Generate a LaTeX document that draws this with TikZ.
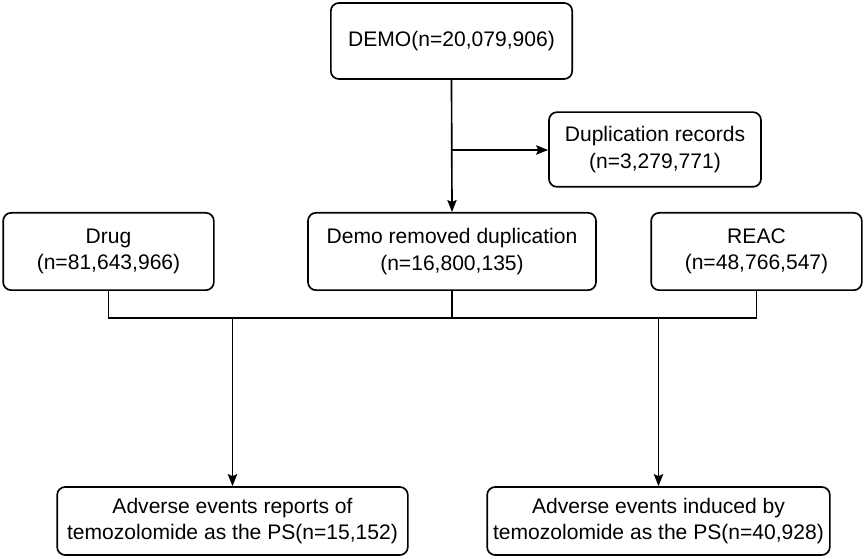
\documentclass[tikz,border=0pt]{standalone}
\usepackage{fontspec}
\setmainfont{Liberation Sans}
\usetikzlibrary{arrows.meta}

\tikzset{every picture/.style={line width=1.25pt}}
\tikzset{
  flowbox/.style={draw, rounded corners=6pt, align=center, inner sep=0.75pt,
    font=\fontsize{15.8}{19.6}\selectfont},
  flowarrow/.style={-{Stealth[length=9pt,width=7pt,inset=1.5pt]}}
}

\begin{document}
\begin{tikzpicture}[x=0.75pt,y=0.75pt,yscale=-1,xscale=1]
%set diagram size 865 x 559
\useasboundingbox (0,0) rectangle (865,559);

% Text Node
\node [flowbox, minimum width=181pt, minimum height=57pt] (demo) at (451.5,41) {DEMO(n=20,079,906)};
% Text Node
\node [flowbox, minimum width=159pt, minimum height=56pt] (dup) at (655,149.5) {Duplication records\\(n=3,279,771)};
% Text Node
\node [flowbox, minimum width=158pt, minimum height=58pt] (drug) at (108.5,251.5) {Drug\\(n=81,643,966)};
% Text Node
\node [flowbox, minimum width=216pt, minimum height=58pt] (rmdup) at (452,251.5) {Demo removed duplication\\(n=16,800,135)};
% Text Node
\node [flowbox, minimum width=158pt, minimum height=58pt] (reac) at (756.5,251.5) {REAC\\(n=48,766,547)};
% Text Node
\node [flowbox, minimum width=263pt, minimum height=51pt] (aers) at (232.5,521) {Adverse events reports of\\temozolomide as the PS(n=15,152)};
% Text Node
\node [flowbox, minimum width=257pt, minimum height=51pt] (aeind) at (658.5,521) {Adverse events induced by\\temozolomide as the PS(n=40,928)};

%Straight Lines
\draw [flowarrow] (demo.south) -- (rmdup.north);
\coordinate (branch) at (452,150);
\draw [flowarrow] (branch) -- (branch -| dup.west);

%Straight Lines
\coordinate (bus) at (452,318);
\draw (drug.south) |- (bus) -| (reac.south);
\draw (rmdup.south) -- (bus);
\draw [flowarrow] (aers.north |- bus) -- (aers.north);
\draw [flowarrow] (aeind.north |- bus) -- (aeind.north);

\end{tikzpicture}
\end{document}
